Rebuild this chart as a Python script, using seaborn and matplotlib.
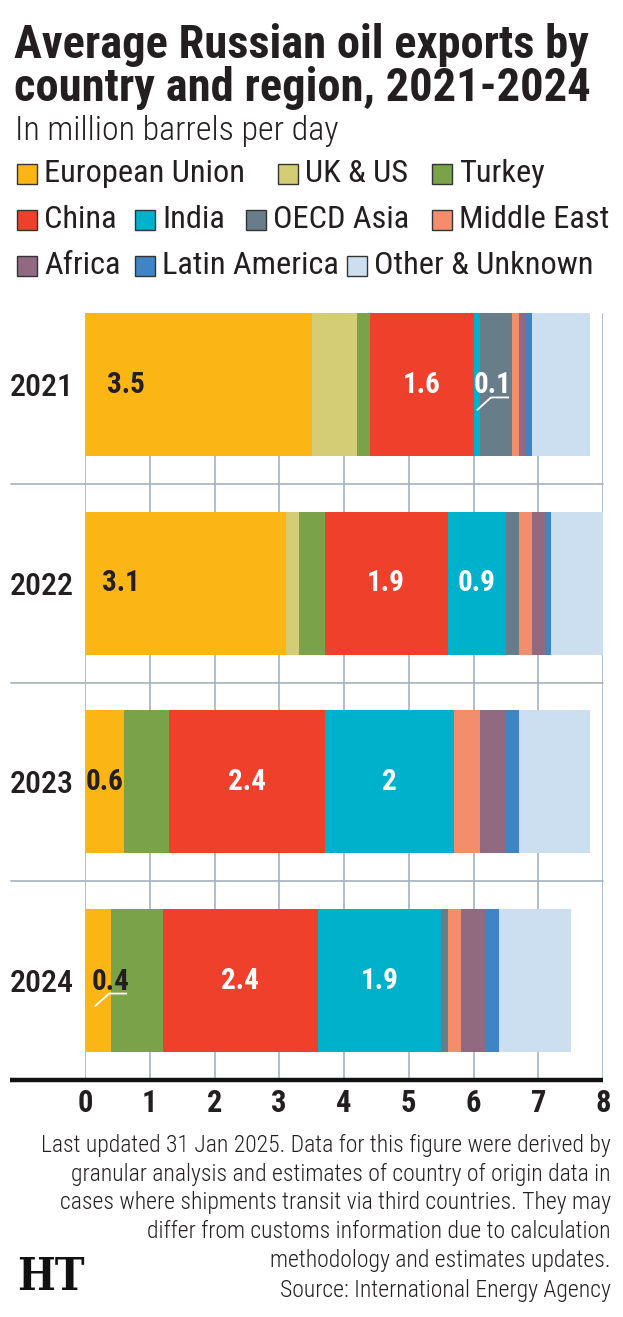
import numpy as np
import pandas as pd
import seaborn as sns
import matplotlib
matplotlib.use('Agg')
from matplotlib import pyplot as plt
from matplotlib import font_manager, patches

# data, million barrels per day
years = ['2021', '2022', '2023', '2024']
european_union = [3.5, 3.1, 0.6, 0.4]
uk_us = [0.7, 0.2, 0.0, 0.0]
turkey = [0.2, 0.4, 0.7, 0.8]
china = [1.6, 1.9, 2.4, 2.4]
india = [0.1, 0.9, 2.0, 1.9]
oecd_asia = [0.5, 0.2, 0.0, 0.1]
middle_east = [0.1, 0.2, 0.4, 0.2]
africa = [0.1, 0.2, 0.4, 0.4]
latin_america = [0.1, 0.1, 0.2, 0.2]
other_unknown = [0.9, 0.8, 1.1, 1.1]
x_ticks = [0, 1, 2, 3, 4, 5, 6, 7, 8]

series = ['European Union', 'UK & US', 'Turkey', 'China', 'India', 'OECD Asia',
          'Middle East', 'Africa', 'Latin America', 'Other & Unknown']
colors = {'European Union': '#fbb615', 'UK & US': '#d5cc76', 'Turkey': '#7aa249',
          'China': '#ee402b', 'India': '#00b1cc', 'OECD Asia': '#677d8a',
          'Middle East': '#f38e6d', 'Africa': '#916981', 'Latin America': '#3f85c6',
          'Other & Unknown': '#cbdff1'}

df = pd.DataFrame({'year': years, 'European Union': european_union, 'UK & US': uk_us,
                   'Turkey': turkey, 'China': china, 'India': india,
                   'OECD Asia': oecd_asia, 'Middle East': middle_east, 'Africa': africa,
                   'Latin America': latin_america, 'Other & Unknown': other_unknown})
cum = df[series].cumsum(axis=1)
start = cum - df[series]

sns.set_theme(style='white')
names = {f.name for f in font_manager.fontManager.ttflist}
font = next(n for n in ['Roboto Condensed', 'Liberation Sans Narrow',
                        'DejaVu Sans Condensed', 'DejaVu Sans'] if n in names)
plt.rcParams['font.family'] = [font, 'DejaVu Sans']
plt.rcParams['font.stretch'] = 'condensed'

W, H = 623, 1317
def fx(px):
    return px / W
def fy(py):
    return 1 - py / H

INK = '#231f20'
GRID = '#a3b1bf'

fig = plt.figure(figsize=(W / 100, H / 100), dpi=100)
ax = fig.add_axes([fx(85), fy(1080), fx(603) - fx(85), fy(313) - fy(1080)])

# stacked bars: draw cumulative totals from the last series back to the first
for name in reversed(series):
    sns.barplot(x=cum[name], y=df['year'], color=colors[name], width=0.72,
                saturation=1, linewidth=0, errorbar=None, orient='h', ax=ax)

ax.set_xlim(0, 8)
ax.set_ylim(3.5, -0.36)
ax.set_xticks(x_ticks)
ax.set_xticklabels([str(t) for t in x_ticks], fontsize=22, fontweight='bold', color=INK)
ax.set_yticklabels(years, fontsize=23, fontweight='medium', color=INK)
ax.tick_params(axis='x', length=0, pad=6)
ax.tick_params(axis='y', length=0, pad=8)
ax.set_xlabel('')
ax.set_ylabel('')
for s in ax.spines.values():
    s.set_visible(False)
ax.set_axisbelow(True)
ax.grid(True, axis='x', color=GRID, linewidth=1.2)
ax.grid(False, axis='y')
for y in [0.5, 1.5, 2.5]:
    ax.axhline(y, xmin=-0.143, xmax=1, color=GRID, linewidth=1.2, clip_on=False, zorder=0.5)
ax.plot([-0.145, 1.0], [0, 0], transform=ax.transAxes, color='#111111', linewidth=3.2,
        clip_on=False, solid_capstyle='butt')

# value labels on EU, China and India segments
label_colors = {'European Union': INK, 'China': 'white', 'India': 'white'}
callouts = {('2021', 'India'): 0.24, ('2024', 'European Union'): 0.19}
for i, yr in enumerate(years):
    for name, tc in label_colors.items():
        v = df.loc[i, name]
        s0 = start.loc[i, name]
        c = s0 + v / 2
        txt = f'{v:g}'
        if (yr, name) in callouts:
            tx = c + callouts[(yr, name)]
            ax.text(tx, i + 0.045, txt, ha='center', va='baseline', fontsize=21,
                    fontweight='bold', color=tc)
            ax.plot([tx - 0.24, tx - 0.02, tx + 0.26], [i + 0.13, i + 0.065, i + 0.065],
                    color='white', linewidth=1.3, solid_capstyle='butt')
        else:
            tx = s0 + 0.18 * v if v > 2 and name == 'European Union' else c
            ax.text(tx, i, txt, ha='center', va='center', fontsize=21,
                    fontweight='bold', color=tc)

# title block
fig.text(fx(14), fy(58), 'Average Russian oil exports by', fontsize=33.5,
         fontweight='bold', color=INK, va='baseline')
fig.text(fx(14), fy(101), 'country and region, 2021-2024', fontsize=33.5,
         fontweight='bold', color=INK, va='baseline')
fig.text(fx(15), fy(140), 'In million barrels per day', fontsize=24.5,
         fontweight='light', color=INK, va='baseline')

# legend laid out like the original
legend_rows = [['European Union', 'UK & US', 'Turkey'],
               ['China', 'India', 'OECD Asia', 'Middle East'],
               ['Africa', 'Latin America', 'Other & Unknown']]
legend_x = [[17, 278, 432], [17, 135, 246, 432], [17, 135, 347]]
legend_y = [174, 220, 266]
for row, xs, yc in zip(legend_rows, legend_x, legend_y):
    for name, px in zip(row, xs):
        fig.add_artist(patches.Rectangle((fx(px), fy(yc + 10)), 20 / W, 20 / H,
                                         transform=fig.transFigure,
                                         facecolor=colors[name], edgecolor='#333333',
                                         linewidth=1))
        fig.text(fx(px + 27), fy(yc), name, fontsize=23.3, color=INK, va='center')

# footer
footer = ['Last updated 31 Jan 2025. Data for this figure were derived by',
          'granular analysis and estimates of country of origin data in',
          'cases where shipments transit via third countries. They may',
          'differ from customs information due to calculation',
          'methodology and estimates updates.',
          'Source: International Energy Agency']
for k, line in enumerate(footer):
    fig.text(fx(611), fy(1145 + 29 * k), line, fontsize=17, fontweight='light',
             color=INK, ha='right', va='center')
fig.text(fx(17), fy(1277), 'HT', fontsize=32, fontweight='bold', color='#111111',
         family='DejaVu Serif', va='center')

fig.savefig('out.png', dpi=100)
